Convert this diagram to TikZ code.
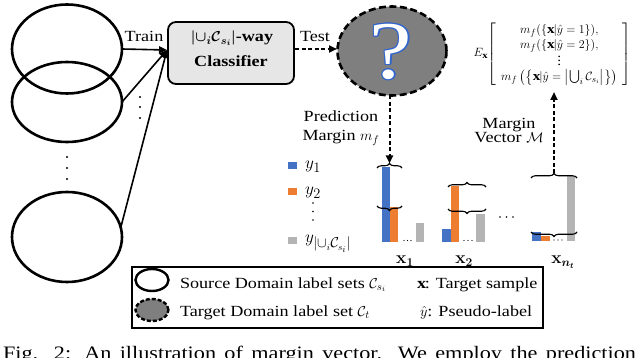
\documentclass[tikz,border=0pt]{standalone}
\usepackage{amsmath,amssymb,bm}
\usepackage{fontspec}
\setmainfont[FakeStretch=1.17]{Liberation Serif}
\usetikzlibrary{shapes.geometric,arrows.meta,decorations.pathreplacing,calc}
\definecolor{barblue}{HTML}{4472C4}
\definecolor{barorange}{HTML}{ED7D31}
\definecolor{bargray}{HTML}{B4B4B4}
\definecolor{qgray}{HTML}{7F7F7F}
\definecolor{boxgray}{HTML}{E6E6E6}
\definecolor{qblue}{HTML}{3366CC}
\newcommand{\mainsize}{\fontsize{15.5}{18}\selectfont}
\newcommand{\ysize}{\fontsize{19}{22}\selectfont}
\newcommand{\qsize}{\fontsize{82}{82}\selectfont}
\newcommand{\matsize}{\fontsize{13}{15}\selectfont}
\newcommand{\capsize}{\fontsize{19}{22}\selectfont}
\begin{document}
\begin{tikzpicture}[x=1pt,y=-1pt,
  every node/.style={font=\mainsize, inner sep=0pt, outer sep=0pt},
  srcset/.style={draw, ellipse, line width=2.6pt},
  tgtset/.style={draw, ellipse, fill=qgray, line width=2.6pt, dash pattern=on 7pt off 3.5pt},
  solidarr/.style={line width=1.6pt, -{Triangle[length=8pt,width=7pt]}},
  dasharr/.style={line width=2pt, dash pattern=on 4pt off 2.5pt, -{Triangle[length=8pt,width=7pt]}},
  topbrace/.style={decorate, decoration={brace, amplitude=4.5pt}, line width=1.1pt},
  dotmark/.style={fill, circle, minimum size=2.4pt},
  smalldot/.style={fill, circle, minimum size=1.8pt},
  boldtext/.style={font=\mainsize\bfseries},
  ylabel/.style={anchor=base west, font=\ysize},
]
\useasboundingbox (0,0) rectangle (640,358);

% source domain label sets
\node[srcset, minimum width=110pt, minimum height=89pt] (e1) at (67,49) {};
\node[srcset, minimum width=110pt, minimum height=80pt] (e2) at (67,102) {};
\node[srcset, minimum width=110pt, minimum height=90pt] (e3) at (67,237) {};
\node[dotmark] (v1) at (67,157) {};
\node[dotmark] (v2) at (67,168) {};
\node[dotmark] (v3) at (67,179) {};

% classifier
\node[draw, line width=1.8pt, rounded corners=8pt, fill=boxgray, minimum width=126pt, minimum height=62pt] (clf) at (231,53) {};
\node[anchor=base, boldtext] (clf1) at (232,42) {$\bm{\lvert\cup_i \mathcal{C}_{s_i}\rvert}$-way};
\node[anchor=base, boldtext] (clf2) at (231,67) {Classifier};
\coordinate (cin) at (167,50);

\draw[solidarr] (e1.east) -- (cin);
\draw[solidarr] (e2.east) -- (cin);
\draw[solidarr] (e3.10) -- (cin);
\node[anchor=base] (train) at (144,42) {Train};
\node[dotmark] (a1) at (140,97) {};
\node[dotmark] (a2) at (140,107) {};
\node[dotmark] (a3) at (140,118) {};

% target / question
\node[tgtset, minimum width=109pt, minimum height=89pt] (q) at (392,51) {};
\foreach \a in {0,30,...,330}{
  \node[text=qblue, font=\qsize] at ($(391,52)+(\a:1.3pt)$) {?};
}
\node[text=white, font=\qsize] (qm) at (391,52) {?};

\coordinate (tout) at (295,49);
\coordinate (tin) at (337,49);
\draw[dasharr] (tout) -- (tin);
\node[anchor=base] (test) at (315,42) {Test};

% prediction margin
\coordinate (m1) at (389.5,163.5);
\draw[dasharr] (q.south -| m1) -- (m1);
\node[anchor=base] (pm1) at (341,122) {Prediction};
\node[anchor=base] (pm2) at (341,141) {Margin $m_f$};

% legend of bars
\fill[barblue] (288,162) rectangle (297,169);
\fill[barorange] (288,188) rectangle (297,195);
\fill[bargray] (288,237) rectangle (297,244);
\node[ylabel] (ly1) at (305,169) {$y_1$};
\node[ylabel] (ly2) at (305,195) {$y_2$};
\node[ylabel] (ly3) at (305,243) {$y_{\lvert\cup_i \mathcal{C}_{s_i}\rvert}$};
\node[smalldot] (ld1) at (313,203) {};
\node[smalldot] (ld2) at (313,211.5) {};
\node[smalldot] (ld3) at (313,220) {};

% bars x1
\fill[barblue] (382,167) rectangle (390,242);
\fill[barorange] (390,207) rectangle (398,242);
\fill[bargray] (416,223) rectangle (424,242);
\foreach \x in {404,407.5,411} \fill (\x,240.5) circle (0.7pt);
\draw[topbrace] (377,168) -- (402,168);
\draw[topbrace] (402,206) -- (377,206);

% bars x2
\fill[barblue] (442,229) rectangle (451,242);
\fill[barorange] (451,186) rectangle (459,242);
\fill[bargray] (476,214) rectangle (485,242);
\foreach \x in {464,468,472} \fill (\x,240.5) circle (0.7pt);
\draw[topbrace] (448,187) -- (486,187);
\draw[topbrace] (486,209) -- (448,209);

\foreach \x in {500,506.5,513} \fill (\x,217) circle (0.8pt);

% bars xn
\fill[barblue] (532,232) rectangle (541,241);
\fill[barorange] (541,236) rectangle (550,241);
\fill[bargray] (567,176) rectangle (575,241);
\foreach \x in {554,558,562} \fill (\x,240) circle (0.7pt);
\draw[topbrace] (531,178) -- (577,178);
\draw[topbrace] (577,232) -- (531,232);
\coordinate (mn) at (554,173.5);

\node[anchor=base, font=\fontsize{17}{20}\selectfont] (x1) at (405,264) {$\bm{\mathbf{x}_1}$};
\node[anchor=base, font=\fontsize{17}{20}\selectfont] (x2) at (464,264) {$\bm{\mathbf{x}_2}$};
\node[anchor=base, font=\fontsize{17}{20}\selectfont] (xn) at (563,264) {$\bm{\mathbf{x}_{n_t}}$};

% margin vector
\coordinate (mvtip) at (554,92);
\draw[dasharr] (mn) -- (mvtip);
\node[anchor=base] (mv1) at (509,129) {Margin};
\node[anchor=base] (mv2) at (509,143) {Vector $\mathcal{M}$};

\node[font=\matsize] (mat) at (552.5,54) {$E_{\mathbf{x}}\!\left[\begin{array}{c}
m_f(\{\mathbf{x}\vert\hat{y}=1\}),\\
m_f(\{\mathbf{x}\vert\hat{y}=2\}),\\[-3pt]
\vdots\\
m_f\left(\left\{\mathbf{x}\vert\hat{y}=\left\lvert\bigcup\nolimits_i \mathcal{C}_{s_i}\right\rvert\right\}\right)
\end{array}\right]$};

% legend box
\node[draw, line width=1.3pt, minimum width=411pt, minimum height=61pt] (leg) at (337.5,297.5) {};
\node[srcset, line width=2.4pt, minimum width=33pt, minimum height=22pt] (l1) at (152,280) {};
\node[tgtset, line width=2.4pt, dash pattern=on 4pt off 2pt, minimum width=33pt, minimum height=22pt] (l2) at (152,310) {};
\node[anchor=base west] (lt1) at (180,288) {Source Domain label sets $\mathcal{C}_{s_i}$};
\node[anchor=base west] (lt2) at (180,316) {Target Domain label set $\mathcal{C}_t$};
\node[anchor=base west] (lt3) at (417,288) {$\mathbf{x}$: Target sample};
\node[anchor=base west] (lt4) at (420,316) {$\hat{y}$: Pseudo-label};

% caption (cut at the bottom)
\node[anchor=base west, font=\capsize] (cap) at (3,359.5) {\makebox[633pt][s]{Fig. 2: An illustration of margin vector. We employ the prediction}};
\end{tikzpicture}
\end{document}
